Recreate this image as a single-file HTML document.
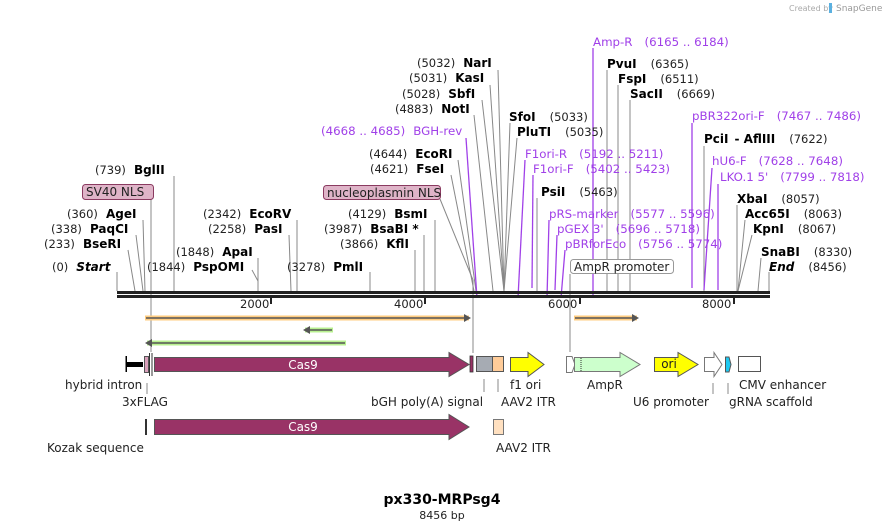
<!DOCTYPE html>
<html><head><meta charset="utf-8"><style>
html,body{margin:0;padding:0;background:#fff;}
svg{display:block;font-family:"DejaVu Sans","Liberation Sans",sans-serif;}
.n{font-size:11.5px;fill:#222;}
.b{font-size:12px;font-weight:bold;fill:#000;}
.p{font-size:11.8px;fill:#a040e8;}
.l{stroke:#888;stroke-width:1;fill:none;}
.pl{stroke:#a040e8;stroke-width:1.3;fill:none;}
.f{font-size:12px;fill:#222;}
</style></head><body>
<svg width="886" height="530" viewBox="0 0 886 530" xmlns="http://www.w3.org/2000/svg">
<text x="789" y="11" font-size="8" fill="#aaa">Created by</text>
<rect x="829" y="3" width="3" height="10" fill="#5ab0e0"/>
<text x="836" y="11" font-size="9" fill="#999">SnapGene</text>

<g class="l">
<line x1="174" y1="176" x2="174" y2="291"/>
<line x1="151" y1="199" x2="151" y2="352"/>
<line x1="143" y1="220" x2="145" y2="291"/>
<line x1="136" y1="235" x2="143" y2="291"/>
<line x1="128" y1="250" x2="135" y2="291"/>
<line x1="117" y1="272" x2="117" y2="291"/>
<line x1="258" y1="258" x2="258" y2="291"/>
<line x1="252" y1="270" x2="258" y2="281"/>
<line x1="297" y1="220" x2="297" y2="291"/>
<line x1="289" y1="235" x2="291" y2="291"/>
<line x1="370" y1="272" x2="370" y2="291"/>
<line x1="415" y1="250" x2="415" y2="291"/>
<line x1="424" y1="235" x2="424" y2="291"/>
<line x1="435" y1="220" x2="435" y2="291"/>
<line x1="440" y1="199" x2="473" y2="280"/>
<line x1="473" y1="280" x2="473" y2="353"/>
<line x1="451" y1="175" x2="474" y2="291"/>
<line x1="458" y1="160" x2="476" y2="291"/>
<line x1="474" y1="115" x2="493" y2="291"/>
<line x1="482" y1="100" x2="504" y2="291"/>
<line x1="490" y1="85" x2="504" y2="291"/>
<line x1="498" y1="70" x2="504" y2="291"/>
<line x1="510" y1="123" x2="504" y2="291"/>
<line x1="517" y1="138" x2="504" y2="291"/>
<line x1="537" y1="198" x2="537" y2="291"/>
<line x1="570" y1="274" x2="570" y2="352"/>
<line x1="607" y1="70" x2="607" y2="291"/>
<line x1="618" y1="85" x2="618" y2="291"/>
<line x1="630" y1="100" x2="630" y2="291"/>
<line x1="704" y1="146" x2="704" y2="291"/>
<line x1="737" y1="205" x2="737" y2="291"/>
<line x1="745" y1="220" x2="738" y2="291"/>
<line x1="752" y1="235" x2="738" y2="291"/>
<line x1="761" y1="258" x2="758" y2="291"/>
<line x1="769" y1="272" x2="769" y2="291"/>
</g>
<g class="pl">
<line x1="466" y1="138" x2="477" y2="298"/>
<line x1="525" y1="160" x2="518" y2="298"/>
<line x1="533" y1="175" x2="532" y2="288"/>
<line x1="549" y1="220" x2="547" y2="298"/>
<line x1="557" y1="235" x2="555" y2="290"/>
<line x1="565" y1="250" x2="561" y2="298"/>
<line x1="593" y1="48" x2="593" y2="298"/>
<line x1="692" y1="123" x2="692" y2="288"/>
<line x1="712" y1="168" x2="704" y2="290"/>
<line x1="718" y1="184" x2="718" y2="290"/>
</g>

<rect x="117" y="291" width="653" height="3" fill="#222"/>
<rect x="117" y="295" width="653" height="3" fill="#222"/>
<g fill="#222">
<rect x="270" y="298" width="2" height="6"/><rect x="424" y="298" width="2" height="6"/>
<rect x="579" y="298" width="2" height="6"/><rect x="733" y="298" width="2" height="6"/>
</g>
<g class="n">
<text x="240" y="308">2000</text><text x="394" y="308">4000</text>
<text x="548" y="308">6000</text><text x="702" y="308">8000</text>
</g>

<text y="174" x="95"><tspan class="n">(739)</tspan><tspan class="b" dx="8">BglII</tspan></text>
<rect x="82.5" y="184.5" width="71" height="15" rx="3" fill="#dfb4c8" stroke="#8a3a60"/>
<text x="86" y="196" class="f">SV40 NLS</text>
<text y="218" x="67"><tspan class="n">(360)</tspan><tspan class="b" dx="8">AgeI</tspan></text>
<text y="233" x="51"><tspan class="n">(338)</tspan><tspan class="b" dx="8">PaqCI</tspan></text>
<text y="248" x="44"><tspan class="n">(233)</tspan><tspan class="b" dx="8">BseRI</tspan></text>
<text y="271" x="52"><tspan class="n">(0)</tspan><tspan class="b" dx="8" font-style="italic">Start</tspan></text>
<text y="256" x="176"><tspan class="n">(1848)</tspan><tspan class="b" dx="8">ApaI</tspan></text>
<text y="271" x="147"><tspan class="n">(1844)</tspan><tspan class="b" dx="8">PspOMI</tspan></text>
<text y="218" x="203"><tspan class="n">(2342)</tspan><tspan class="b" dx="8">EcoRV</tspan></text>
<text y="233" x="208"><tspan class="n">(2258)</tspan><tspan class="b" dx="8">PasI</tspan></text>
<text y="271" x="287"><tspan class="n">(3278)</tspan><tspan class="b" dx="8">PmlI</tspan></text>
<text y="248" x="340"><tspan class="n">(3866)</tspan><tspan class="b" dx="8">KflI</tspan></text>
<text y="233" x="324"><tspan class="n">(3987)</tspan><tspan class="b" dx="8">BsaBI *</tspan></text>
<text y="218" x="348"><tspan class="n">(4129)</tspan><tspan class="b" dx="8">BsmI</tspan></text>
<rect x="323.5" y="185.5" width="117" height="14" rx="3" fill="#dfb4c8" stroke="#8a3a60"/>
<text x="327" y="197" class="f">nucleoplasmin NLS</text>
<text y="173" x="370"><tspan class="n">(4621)</tspan><tspan class="b" dx="8">FseI</tspan></text>
<text y="158" x="369"><tspan class="n">(4644)</tspan><tspan class="b" dx="8">EcoRI</tspan></text>
<text y="135" x="321" class="p">(4668 .. 4685)<tspan dx="8">BGH-rev</tspan></text>
<text y="113" x="395"><tspan class="n">(4883)</tspan><tspan class="b" dx="8">NotI</tspan></text>
<text y="98" x="402"><tspan class="n">(5028)</tspan><tspan class="b" dx="8">SbfI</tspan></text>
<text y="82" x="409"><tspan class="n">(5031)</tspan><tspan class="b" dx="8">KasI</tspan></text>
<text y="67" x="417"><tspan class="n">(5032)</tspan><tspan class="b" dx="8">NarI</tspan></text>
<text y="121" x="509"><tspan class="b">SfoI</tspan><tspan class="n" dx="14">(5033)</tspan></text>
<text y="136" x="517"><tspan class="b">PluTI</tspan><tspan class="n" dx="14">(5035)</tspan></text>
<text y="158" x="525" class="p">F1ori-R<tspan dx="12">(5192 .. 5211)</tspan></text>
<text y="173" x="533" class="p">F1ori-F<tspan dx="12">(5402 .. 5423)</tspan></text>
<text y="196" x="541"><tspan class="b">PsiI</tspan><tspan class="n" dx="14">(5463)</tspan></text>
<text y="218" x="549" class="p">pRS-marker<tspan dx="12">(5577 .. 5596)</tspan></text>
<text y="233" x="557" class="p">pGEX 3'<tspan dx="12">(5696 .. 5718)</tspan></text>
<text y="248" x="565" class="p">pBRforEco<tspan dx="12">(5756 .. 5774)</tspan></text>
<rect x="570.5" y="259.5" width="103" height="14" rx="3" fill="#fff" stroke="#999"/>
<text x="574" y="271" class="f">AmpR promoter</text>
<text y="46" x="593" class="p">Amp-R<tspan dx="12">(6165 .. 6184)</tspan></text>
<text y="68" x="607"><tspan class="b">PvuI</tspan><tspan class="n" dx="14">(6365)</tspan></text>
<text y="83" x="618"><tspan class="b">FspI</tspan><tspan class="n" dx="14">(6511)</tspan></text>
<text y="98" x="630"><tspan class="b">SacII</tspan><tspan class="n" dx="14">(6669)</tspan></text>
<text y="120" x="692" class="p">pBR322ori-F<tspan dx="12">(7467 .. 7486)</tspan></text>
<text y="143" x="704"><tspan class="b">PciI</tspan><tspan class="b" dx="6">- AflIII</tspan><tspan class="n" dx="14">(7622)</tspan></text>
<text y="165" x="712" class="p">hU6-F<tspan dx="12">(7628 .. 7648)</tspan></text>
<text y="181" x="720" class="p">LKO.1 5'<tspan dx="12">(7799 .. 7818)</tspan></text>
<text y="203" x="737"><tspan class="b">XbaI</tspan><tspan class="n" dx="14">(8057)</tspan></text>
<text y="218" x="745"><tspan class="b">Acc65I</tspan><tspan class="n" dx="14">(8063)</tspan></text>
<text y="233" x="753"><tspan class="b">KpnI</tspan><tspan class="n" dx="14">(8067)</tspan></text>
<text y="256" x="761"><tspan class="b">SnaBI</tspan><tspan class="n" dx="14">(8330)</tspan></text>
<text y="271" x="769"><tspan class="b" font-style="italic">End</tspan><tspan class="n" dx="14">(8456)</tspan></text>

<rect x="145" y="315.5" width="324" height="5" fill="#ffcc80"/>
<line x1="146" y1="318" x2="466" y2="318" stroke="#555" stroke-width="1.5"/>
<polygon points="464,314 471,318 464,322" fill="#555"/>
<rect x="574" y="315.5" width="63" height="5" fill="#ffcc80"/>
<line x1="575" y1="318" x2="634" y2="318" stroke="#555" stroke-width="1.5"/>
<polygon points="632,314 639,318 632,322" fill="#555"/>
<rect x="305" y="327.5" width="28" height="5" fill="#b8f090"/>
<line x1="308" y1="330" x2="332" y2="330" stroke="#555" stroke-width="1.5"/>
<polygon points="310,326 303,330 310,334" fill="#555"/>
<rect x="147" y="340.5" width="199" height="5" fill="#b8f090"/>
<line x1="150" y1="343" x2="345" y2="343" stroke="#555" stroke-width="1.5"/>
<polygon points="152,339 145,343 152,347" fill="#555"/>

<rect x="126" y="362" width="17" height="5" fill="#000"/>
<rect x="125.5" y="356" width="1.5" height="16" fill="#000"/>
<rect x="144.5" y="356.5" width="4" height="16" fill="#d9a0bb" stroke="#555"/>
<line x1="149.5" y1="353" x2="149.5" y2="376" stroke="#333"/>
<line x1="152" y1="353" x2="152" y2="376" stroke="#333"/>
<polygon points="154.5,357.5 449,357.5 449,352.5 469,364.5 449,376.5 449,371.5 154.5,371.5" fill="#993366" stroke="#555"/>
<text x="303" y="369" text-anchor="middle" font-size="12" fill="#fff">Cas9</text>
<rect x="470" y="356" width="3" height="16" fill="#993366" stroke="#333" stroke-width="0.8"/>
<rect x="476.5" y="356.5" width="16" height="15" fill="#a6abb3" stroke="#555"/>
<rect x="492.5" y="356.5" width="11" height="15" fill="#ffcc99" stroke="#555"/>
<polygon points="510.5,357.5 528,357.5 528,352.5 544,364.5 528,376.5 528,371.5 510.5,371.5" fill="#ffff00" stroke="#555"/>
<polygon points="566.5,356.5 572,356.5 575,364.5 572,372.5 566.5,372.5" fill="#fff" stroke="#777"/>
<polygon points="574.5,357.5 620,357.5 620,352.5 640,364.5 620,376.5 620,371.5 574.5,371.5" fill="#ccffcc" stroke="#777"/>
<line x1="581" y1="358" x2="581" y2="371" stroke="#333" stroke-dasharray="1,1"/>
<polygon points="654.5,357.5 678,357.5 678,352.5 698,364.5 678,376.5 678,371.5 654.5,371.5" fill="#ffff00" stroke="#555"/>
<text x="669" y="368" text-anchor="middle" font-size="12" fill="#222">ori</text>
<polygon points="704.5,357.5 714,357.5 714,352.5 722,364.5 714,376.5 714,371.5 704.5,371.5" fill="#fff" stroke="#777"/>
<polygon points="725.5,357 729,357 731,364.5 729,372 725.5,372" fill="#1ec8f0" stroke="#555"/>
<rect x="738.5" y="356.5" width="22" height="15" fill="#fff" stroke="#555"/>

<g class="l">
<line x1="147" y1="383" x2="147" y2="394"/>
<line x1="484" y1="379" x2="484" y2="392"/>
<line x1="498" y1="379" x2="498" y2="392"/>
<line x1="713" y1="383" x2="713" y2="394"/>
<line x1="728" y1="383" x2="728" y2="394"/>
</g>
<g class="f">
<text x="65" y="389">hybrid intron</text>
<text x="122" y="406">3xFLAG</text>
<text x="371" y="406">bGH poly(A) signal</text>
<text x="501" y="406">AAV2 ITR</text>
<text x="510" y="389">f1 ori</text>
<text x="587" y="389">AmpR</text>
<text x="633" y="406">U6 promoter</text>
<text x="729" y="406">gRNA scaffold</text>
<text x="739" y="389">CMV enhancer</text>
</g>

<rect x="145" y="419" width="2" height="16" fill="#333"/>
<polygon points="154.5,419.5 449,419.5 449,414.5 469,427 449,439.5 449,434.5 154.5,434.5" fill="#993366" stroke="#555"/>
<text x="303" y="431" text-anchor="middle" font-size="12" fill="#fff">Cas9</text>
<rect x="493.5" y="419.5" width="10" height="15" fill="#ffe0c0" stroke="#777"/>
<text x="47" y="452" class="f">Kozak sequence</text>
<text x="496" y="452" class="f">AAV2 ITR</text>

<text x="442" y="504" text-anchor="middle" font-size="14" font-weight="bold" fill="#000">px330-MRPsg4</text>
<text x="442" y="519" text-anchor="middle" font-size="11" fill="#222">8456 bp</text>
</svg>
</body></html>
